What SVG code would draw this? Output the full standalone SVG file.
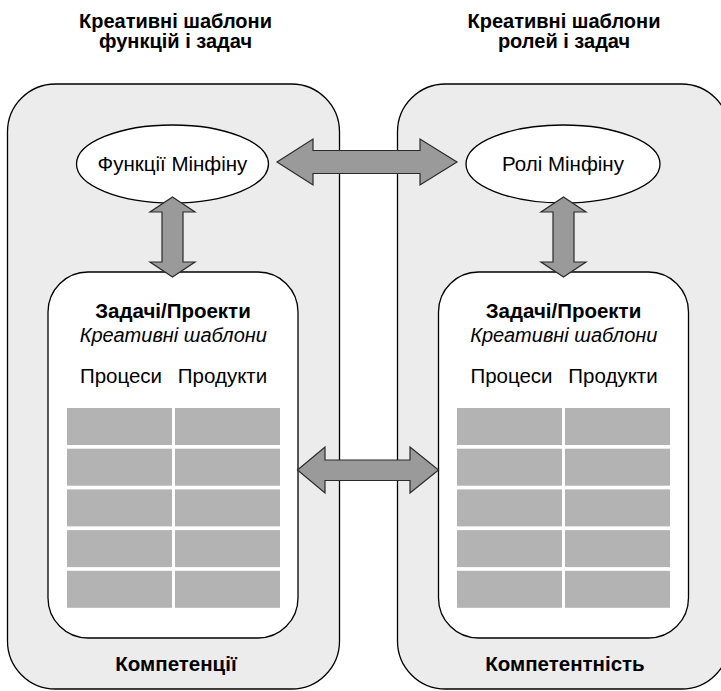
<svg xmlns="http://www.w3.org/2000/svg" width="721" height="691" viewBox="0 0 721 691">
<defs>
<style>
.panel{fill:#ececec;stroke:#000;stroke-width:1.3}
.inner{fill:#fff;stroke:#000;stroke-width:1.3}
.ell{fill:#fff;stroke:#000;stroke-width:1.3}
.cell{fill:#b3b3b3}
.arrow{fill:#9a9a9a;stroke:#2a2a2a;stroke-width:1.2;stroke-linejoin:miter}
text{font-family:"Liberation Sans",Arial,sans-serif;fill:#000;text-anchor:middle}
.hdr{font-size:20px;font-weight:bold}
.b{font-size:20.5px;font-weight:bold}
.i{font-size:20px;font-style:italic}
.r{font-size:20.5px}
</style>
</defs>
<rect width="721" height="691" fill="#fff"/>
<g id="header-left"><text class="hdr" x="175.5" y="27.5">Креативні шаблони</text><text class="hdr" x="175.5" y="47.5">функцій і задач</text></g>
<g id="header-right"><text class="hdr" x="564" y="27.5">Креативні шаблони</text><text class="hdr" x="564" y="47.5">ролей і задач</text></g>
<g id="panel-left"><rect class="panel" x="7.5" y="84" width="332" height="605" rx="48"/><text class="b" x="176" y="671">Компетенції</text></g>
<g id="panel-right"><rect class="panel" x="397.5" y="84" width="332" height="605" rx="48"/><text class="b" x="565" y="671">Компетентність</text></g>
<g id="functions"><ellipse class="ell" cx="172.5" cy="164" rx="96" ry="39"/><text class="r" x="172.5" y="171">Функції Мінфіну</text></g>
<g id="roles"><ellipse class="ell" cx="563" cy="164" rx="97" ry="39"/><text class="r" x="563" y="171">Ролі Мінфіну</text></g>
<g id="tasks-left">
<rect class="inner" x="48" y="272" width="250" height="366" rx="40"/>
<text class="b" x="173" y="318">Задачі/Проекти</text>
<text class="i" x="173.3" y="341.5">Креативні шаблони</text>
<text class="r" x="121" y="382.5">Процеси</text>
<text class="r" x="222.5" y="382.5">Продукти</text>
<rect class="cell" x="67" y="408" width="105" height="37"/><rect class="cell" x="175" y="408" width="105" height="37"/>
<rect class="cell" x="67" y="448.7" width="105" height="37"/><rect class="cell" x="175" y="448.7" width="105" height="37"/>
<rect class="cell" x="67" y="489.4" width="105" height="37"/><rect class="cell" x="175" y="489.4" width="105" height="37"/>
<rect class="cell" x="67" y="530.1" width="105" height="37"/><rect class="cell" x="175" y="530.1" width="105" height="37"/>
<rect class="cell" x="67" y="570.8" width="105" height="37"/><rect class="cell" x="175" y="570.8" width="105" height="37"/>
</g>
<g id="tasks-right">
<rect class="inner" x="438.5" y="272" width="250" height="366" rx="40"/>
<text class="b" x="563.5" y="318">Задачі/Проекти</text>
<text class="i" x="563.8" y="341.5">Креативні шаблони</text>
<text class="r" x="511.5" y="382.5">Процеси</text>
<text class="r" x="613" y="382.5">Продукти</text>
<rect class="cell" x="457" y="408" width="105" height="37"/><rect class="cell" x="565" y="408" width="105" height="37"/>
<rect class="cell" x="457" y="448.7" width="105" height="37"/><rect class="cell" x="565" y="448.7" width="105" height="37"/>
<rect class="cell" x="457" y="489.4" width="105" height="37"/><rect class="cell" x="565" y="489.4" width="105" height="37"/>
<rect class="cell" x="457" y="530.1" width="105" height="37"/><rect class="cell" x="565" y="530.1" width="105" height="37"/>
<rect class="cell" x="457" y="570.8" width="105" height="37"/><rect class="cell" x="565" y="570.8" width="105" height="37"/>
</g>
<g id="connectors">
<polygon class="arrow" points="277,162 313,139 313,150.5 420,150.5 420,139 457,162 420,185 420,173.5 313,173.5 313,185"/>
<polygon class="arrow" points="172.5,197 195,212 183,212 183,262 195,262 172.5,277 150,262 162,262 162,212 150,212"/>
<polygon class="arrow" points="563.5,197 586,212 574,212 574,262 586,262 563.5,277 541,262 553,262 553,212 541,212"/>
<polygon class="arrow" points="297.5,470 325,447 325,460 410,460 410,447 438.5,470 410,493 410,480.5 325,480.5 325,493"/>
</g>
</svg>
